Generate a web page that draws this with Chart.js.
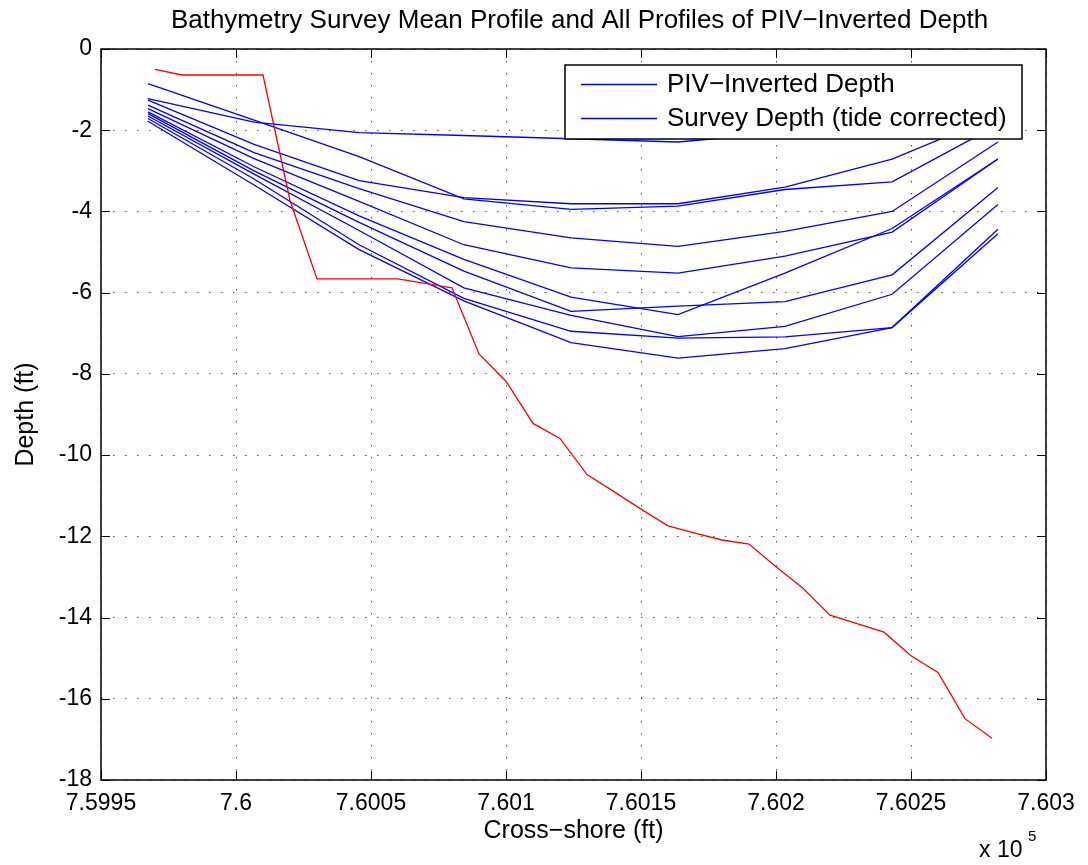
<!DOCTYPE html>
<html>
<head>
<meta charset="utf-8">
<script src="https://cdn.jsdelivr.net/npm/chart.js@4.4.0/dist/chart.umd.min.js"></script>
<style>
  html, body { margin: 0; padding: 0; background: #fff; }
  #caixa { width: 1088px; height: 865px; }
</style>
</head>
<body>
<div id="caixa"><canvas id="grafico" width="1088" height="865"></canvas></div>
<script>
// posições cross-shore dos perfis PIV (ft)
var xPerfis = [759967.4, 760006.7, 760045.6, 760084.4, 760124.1, 760163.7, 760203.3, 760243.0, 760282.2];

// profundidades invertidas (ft), um array por perfil
var perfil1  = [-1.22, -1.80, -2.06, -2.13, -2.21, -2.29, -2.05, -1.85, -1.45];
var perfil2  = [-1.26, -2.35, -3.24, -3.66, -3.81, -3.81, -3.40, -2.71, -1.63];
var perfil3  = [-0.85, -1.75, -2.65, -3.69, -3.95, -3.87, -3.46, -3.27, -1.87];
var perfil4  = [-1.38, -2.55, -3.44, -4.25, -4.65, -4.86, -4.49, -4.00, -2.29];
var perfil5  = [-1.47, -2.70, -3.75, -4.82, -5.39, -5.52, -5.10, -4.51, -2.71];
var perfil6  = [-1.55, -2.90, -4.11, -5.18, -6.11, -6.54, -5.52, -4.42, -2.71];
var perfil7  = [-1.59, -3.00, -4.27, -5.47, -6.46, -6.33, -6.22, -5.56, -3.41];
var perfil8  = [-1.65, -3.08, -4.47, -5.88, -6.56, -7.08, -6.83, -6.04, -3.83];
var perfil9  = [-1.71, -3.20, -4.82, -6.14, -6.95, -7.12, -7.09, -6.86, -4.44];
var perfil10 = [-1.78, -3.35, -4.94, -6.20, -7.23, -7.61, -7.38, -6.86, -4.55];

// levantamento batimétrico (média), corrigido pela maré
var xLevantamento = [759970, 759980, 759990, 760000, 760010, 760020, 760030, 760040, 760050, 760060,
    760070, 760080, 760090, 760100, 760110, 760120, 760130, 760140, 760150, 760160,
    760170, 760180, 760190, 760200, 760210, 760220, 760230, 760240, 760250, 760260,
    760270, 760280];
var profLevantamento = [-0.50, -0.64, -0.64, -0.64, -0.64, -3.73, -5.66, -5.66, -5.66, -5.66,
    -5.77, -5.88, -7.51, -8.18, -9.22, -9.59, -10.48, -10.90, -11.33, -11.74,
    -11.92, -12.09, -12.19, -12.75, -13.28, -13.94, -14.15, -14.36, -14.94, -15.35,
    -16.49, -16.97];

var rotulosLegenda = ["PIV\u2212Inverted Depth", "Survey Depth (tide corrected)"];
var titulo = "Bathymetry Survey Mean Profile and All Profiles of PIV\u2212Inverted Depth";

var fonte = "'Liberation Sans', Arial, Helvetica, sans-serif";
var perfis = [perfil1, perfil2, perfil3, perfil4, perfil5, perfil6, perfil7, perfil8, perfil9, perfil10];

function pares(xs, ys) {
    return xs.map(function (x, i) { return { x: x, y: ys[i] }; });
}

var conjuntos = [];
conjuntos.push({
    label: "levantamento",
    data: pares(xLevantamento, profLevantamento),
    borderColor: "#ff0000",
    borderWidth: 1.3,
    showLine: true,
    pointRadius: 0,
    order: 0
});
perfis.forEach(function (p, i) {
    conjuntos.push({
        label: "perfil" + (i + 1),
        data: pares(xPerfis, p),
        borderColor: "#0000ff",
        borderWidth: 1.3,
        showLine: true,
        pointRadius: 0,
        order: 1
    });
});

// moldura estilo MATLAB: caixa, ticks para dentro, textos e legenda
var moldura = {
    id: 'moldura',
    afterDraw: function (chart) {
        var ctx = chart.ctx;
        var a = chart.chartArea;
        var sx = chart.scales.x, sy = chart.scales.y;
        ctx.save();
        ctx.strokeStyle = "#000";
        ctx.lineWidth = 1.5;
        ctx.strokeRect(a.left, a.top, a.right - a.left, a.bottom - a.top);

        ctx.lineWidth = 1;
        ctx.beginPath();
        sx.ticks.forEach(function (t) {
            var px = Math.round(sx.getPixelForValue(t.value)) + 0.5;
            ctx.moveTo(px, a.bottom); ctx.lineTo(px, a.bottom - 9);
            ctx.moveTo(px, a.top); ctx.lineTo(px, a.top + 9);
        });
        sy.ticks.forEach(function (t) {
            var py = Math.round(sy.getPixelForValue(t.value)) + 0.5;
            ctx.moveTo(a.left, py); ctx.lineTo(a.left + 9, py);
            ctx.moveTo(a.right, py); ctx.lineTo(a.right - 9, py);
        });
        ctx.stroke();

        ctx.fillStyle = "#000";
        ctx.textAlign = "center";
        ctx.textBaseline = "middle";
        ctx.font = "26px " + fonte;
        ctx.fillText(titulo, (a.left + a.right) / 2 + 6, 21);
        ctx.font = "25px " + fonte;
        ctx.fillText("Cross\u2212shore (ft)", (a.left + a.right) / 2, 831);

        ctx.save();
        ctx.translate(26, (a.top + a.bottom) / 2);
        ctx.rotate(-Math.PI / 2);
        ctx.fillText("Depth (ft)", 0, 0);
        ctx.restore();

        ctx.textAlign = "left";
        ctx.font = "23px " + fonte;
        ctx.fillText("x 10", 979, 851);
        ctx.font = "15px " + fonte;
        ctx.fillText("5", 1028, 837);

        // legenda
        var lx = 565, ly = 65, lw = 457, lh = 74;
        ctx.fillStyle = "#fff";
        ctx.fillRect(lx, ly, lw, lh);
        ctx.strokeStyle = "#000";
        ctx.lineWidth = 1.5;
        ctx.strokeRect(lx, ly, lw, lh);
        ctx.strokeStyle = "#0000ff";
        ctx.lineWidth = 1.3;
        ctx.font = "26px " + fonte;
        ctx.fillStyle = "#000";
        rotulosLegenda.forEach(function (r, i) {
            var yy = ly + 19.5 + i * 34;
            ctx.beginPath();
            ctx.moveTo(581, yy); ctx.lineTo(657, yy);
            ctx.stroke();
            ctx.fillText(r, 667, yy);
        });
        ctx.restore();
    }
};

var grafico = new Chart(document.getElementById('grafico').getContext('2d'), {
    type: 'scatter',
    data: { datasets: conjuntos },
    options: {
        responsive: false,
        animation: false,
        events: [],
        layout: { padding: { top: 49, right: 42, left: 0, bottom: 0 } },
        plugins: { legend: { display: false }, tooltip: { enabled: false }, title: { display: false } },
        scales: {
            x: {
                type: 'linear',
                min: 759950, max: 760300,
                ticks: {
                    stepSize: 50,
                    padding: 10,
                    color: "#000",
                    font: { family: fonte, size: 23 },
                    maxRotation: 0,
                    callback: function (v) { return parseFloat((v / 1e5).toFixed(4)).toString(); }
                },
                grid: { color: "#555", lineWidth: 1, drawTicks: false },
                border: { display: false, dash: [1.5, 10.5] },
                afterFit: function (s) { s.height = 85; }
            },
            y: {
                type: 'linear',
                min: -18, max: 0,
                ticks: {
                    stepSize: 2,
                    padding: 9,
                    color: "#000",
                    font: { family: fonte, size: 23 },
                    callback: function (v) { return v === 0 ? "0" : "-" + Math.abs(v); }
                },
                grid: { color: "#555", lineWidth: 1, drawTicks: false },
                border: { display: false, dash: [1.5, 10.5] },
                afterFit: function (s) { s.width = 101; }
            }
        }
    },
    plugins: [moldura]
});
</script>
</body>
</html>
